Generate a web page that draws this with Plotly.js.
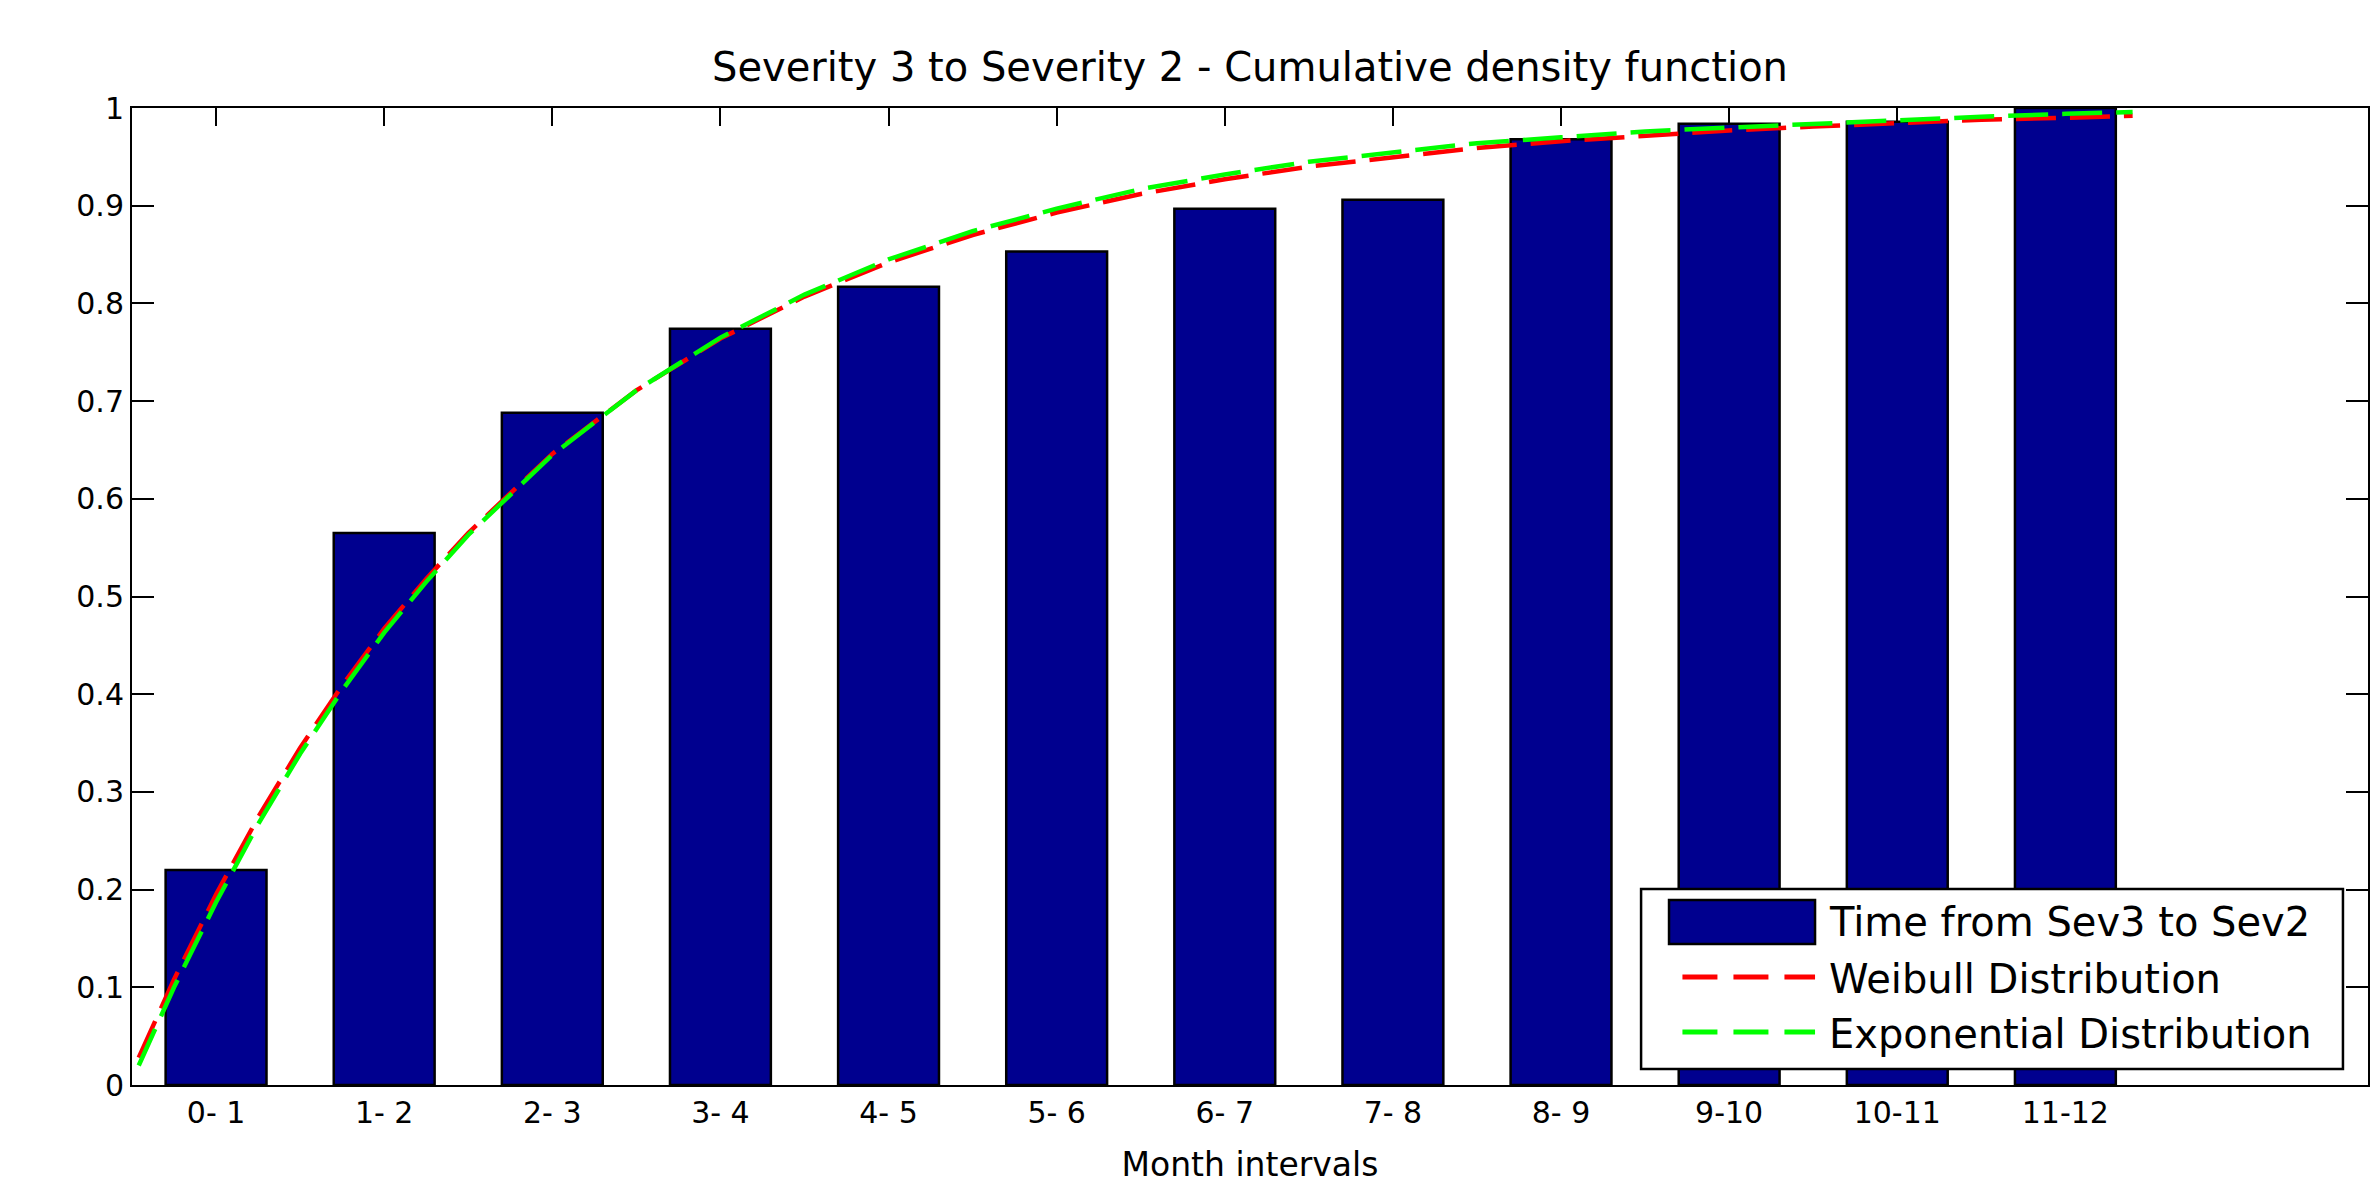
<!DOCTYPE html>
<html>
<head>
<meta charset="utf-8">
<script src="https://cdn.plot.ly/plotly-3.0.1.min.js"></script>
<style>
  html, body { margin: 0; padding: 0; background: #ffffff; }
  #chart { width: 2373px; height: 1184px; }
</style>
</head>
<body>
<div id="chart"></div>
<script>
// ---- data ----
const categories = ['0- 1', '1- 2', '2- 3', '3- 4', '4- 5', '5- 6', '6- 7', '7- 8', '8- 9', '9-10', '10-11', '11-12'];
const observedCdf = [0.22, 0.565, 0.688, 0.774, 0.817, 0.853, 0.897, 0.906, 0.968, 0.984, 0.986, 1.0];

const fitMonths = [0.04, 0.25, 0.5, 0.75, 1, 1.25, 1.5, 1.75, 2, 2.5, 3, 3.5, 4, 4.5, 5, 5.5, 6, 6.5, 7, 7.5, 8, 8.5, 9, 9.5, 10, 10.5, 11, 11.5, 11.9];
const weibullCdf = [0.028, 0.108, 0.195, 0.274, 0.345, 0.409, 0.467, 0.518, 0.565, 0.646, 0.711, 0.764, 0.807, 0.842, 0.870, 0.893, 0.912, 0.927, 0.940, 0.950, 0.959, 0.966, 0.972, 0.977, 0.981, 0.985, 0.988, 0.990, 0.992];
const exponentialCdf = [0.020, 0.100, 0.187, 0.267, 0.339, 0.404, 0.463, 0.515, 0.563, 0.645, 0.711, 0.765, 0.809, 0.845, 0.874, 0.897, 0.917, 0.932, 0.945, 0.955, 0.964, 0.970, 0.976, 0.980, 0.984, 0.988, 0.991, 0.994, 0.996];

const seriesNames = ['Time from Sev3 to Sev2', 'Weibull Distribution', 'Exponential Distribution'];
const chartTitle = 'Severity 3 to Severity 2 - Cumulative density function';
const xTitle = 'Month intervals';

// ---- styling ----
const FONT = 'DejaVu Sans, Liberation Sans, Arial, sans-serif';
const BAR_COLOR = '#00008F';

// bar centres sit at the middle of each month interval
const barCenters = categories.map((c, i) => i + 0.5);

const traces = [
  {
    type: 'bar',
    name: seriesNames[0],
    x: barCenters,
    y: observedCdf,
    width: 0.6,
    marker: { color: BAR_COLOR, line: { color: '#000000', width: 2.5 } },
    hoverinfo: 'skip'
  },
  {
    type: 'scatter',
    mode: 'lines',
    name: seriesNames[1],
    x: fitMonths,
    y: weibullCdf,
    line: { color: '#FF0000', width: 4.5, dash: '40px,14px' },
    hoverinfo: 'skip'
  },
  {
    type: 'scatter',
    mode: 'lines',
    name: seriesNames[2],
    x: fitMonths,
    y: exponentialCdf,
    line: { color: '#00FF00', width: 4.5, dash: '40px,14px' },
    hoverinfo: 'skip'
  }
];

// legend box drawn in paper coordinates (bottom-right corner of the axes)
const LG = { x0: 0.6749, x1: 0.9888, y0: 0.0164, y1: 0.2006 };
const swatchX0 = 0.6874, swatchX1 = 0.7527;
const rowY = [0.1668, 0.1085, 0.0522];
const textX = 0.7579;

const shapes = [
  { type: 'rect', xref: 'paper', yref: 'paper', x0: LG.x0, x1: LG.x1, y0: LG.y0, y1: LG.y1,
    fillcolor: '#ffffff', line: { color: '#000000', width: 2.5 }, layer: 'above' },
  { type: 'rect', xref: 'paper', yref: 'paper', x0: swatchX0, x1: swatchX1, y0: 0.1443, y1: 0.1894,
    fillcolor: BAR_COLOR, line: { color: '#000000', width: 2.5 }, layer: 'above' },
  { type: 'line', xref: 'paper', yref: 'paper', x0: swatchX0 + 0.006, x1: swatchX1, y0: 0.1105, y1: 0.1105,
    line: { color: '#FF0000', width: 5, dash: '35px,16px' }, layer: 'above' },
  { type: 'line', xref: 'paper', yref: 'paper', x0: swatchX0 + 0.006, x1: swatchX1, y0: 0.0542, y1: 0.0542,
    line: { color: '#00FF00', width: 5, dash: '35px,16px' }, layer: 'above' }
];

const annotations = seriesNames.map((name, i) => ({
  xref: 'paper', yref: 'paper', x: textX, y: rowY[i],
  xanchor: 'left', yanchor: 'middle', showarrow: false,
  text: name, font: { family: FONT, size: 40, color: '#000000' }
}));

const axisCommon = {
  showline: true, linecolor: '#000000', linewidth: 2,
  mirror: 'ticks', ticks: 'inside', tickcolor: '#000000', tickwidth: 2,
  showgrid: false, zeroline: false, layer: 'below traces',
  tickfont: { family: FONT, size: 30, color: '#000000' }
};

const layout = {
  width: 2373, height: 1184,
  margin: { l: 132, r: 5, t: 108, b: 99, pad: 0 },
  paper_bgcolor: '#ffffff', plot_bgcolor: '#ffffff',
  showlegend: false,
  bargap: 0,
  title: {
    text: chartTitle,
    font: { family: FONT, size: 40, color: '#000000' },
    x: 0.5, xref: 'paper', y: 1 - 67 / 1184, yref: 'container', yanchor: 'middle'
  },
  xaxis: Object.assign({}, axisCommon, {
    range: [0, 13.3], autorange: false,
    tickmode: 'array', tickvals: barCenters, ticktext: categories,
    ticklen: 18,
    title: { text: xTitle, font: { family: FONT, size: 33, color: '#000000' }, standoff: 24 },
    automargin: false
  }),
  yaxis: Object.assign({}, axisCommon, {
    range: [0, 1], autorange: false,
    tickmode: 'linear', tick0: 0, dtick: 0.1,
    ticklen: 22, automargin: false
  }),
  shapes: shapes,
  annotations: annotations
};

Plotly.newPlot('chart', traces, layout, { staticPlot: true, displayModeBar: false });
</script>
</body>
</html>
